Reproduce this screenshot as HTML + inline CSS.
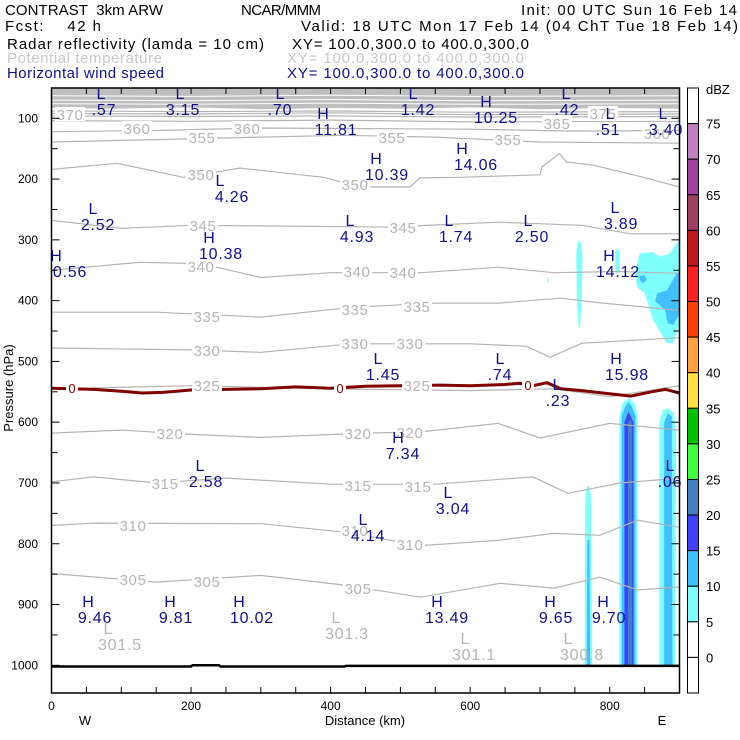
<!DOCTYPE html>
<html><head><meta charset="utf-8">
<style>
html,body{margin:0;padding:0;background:#fff;}
svg{display:block;font-family:"Liberation Sans",sans-serif;}
#header text{white-space:pre;}
</style></head>
<body>
<svg id="chart" width="740" height="740" viewBox="0 0 740 740">
  <defs><clipPath id="plotclip"><rect x="51.5" y="88" width="628" height="605"/></clipPath></defs>
  <g id="header" font-size="15" fill="#000">
    <text x="5" y="15" textLength="158" lengthAdjust="spacing">CONTRAST  3km ARW</text>
    <text x="241" y="15" textLength="80" lengthAdjust="spacing">NCAR/MMM</text>
    <text x="521" y="15" textLength="216" lengthAdjust="spacing">Init: 00 UTC Sun 16 Feb 14</text>
    <text x="5" y="31" textLength="96" lengthAdjust="spacing">Fcst:    42 h</text>
    <text x="301" y="31" textLength="437" lengthAdjust="spacing">Valid: 18 UTC Mon 17 Feb 14 (04 ChT Tue 18 Feb 14)</text>
    <text x="7" y="49" textLength="257" lengthAdjust="spacing">Radar reflectivity (lamda = 10 cm)</text>
    <text x="292" y="49" textLength="237" lengthAdjust="spacing">XY= 100.0,300.0 to 400.0,300.0</text>
    <text x="7" y="63" textLength="155" lengthAdjust="spacing" fill="#c8c8c8">Potential temperature</text>
    <text x="287" y="63" textLength="237" lengthAdjust="spacing" fill="#c8c8c8">XY= 100.0,300.0 to 400.0,300.0</text>
    <text x="7" y="78" textLength="157" lengthAdjust="spacing" fill="#10108c">Horizontal wind speed</text>
    <text x="287" y="78" textLength="237" lengthAdjust="spacing" fill="#10108c">XY= 100.0,300.0 to 400.0,300.0</text>
  </g>
  <g id="plot" clip-path="url(#plotclip)"></g>
  <g id="labels"></g>
  <g id="axes"></g>
  <g id="cbar"></g>
</svg>
<script>
// ---------- data ----------
const xTicks = [0, 200, 400, 600, 800];
const yTicks = [100, 200, 300, 400, 500, 600, 700, 800, 900, 1000];
const cbarLevels = [75, 70, 65, 60, 55, 50, 45, 40, 35, 30, 25, 20, 15, 10, 5, 0];
const cbarColors = ["#ffffff","#c080c0","#a040a0","#a04060","#c01818","#ff2020","#ff4000","#ffa040","#ffe040","#00c000","#40ff40","#4080c0","#4040ff","#40c0ff","#80ffff","#ffffff","#ffffff"];
const bandBottom = [[0,83],[100,84],[200,82],[300,85],[400,83],[500,84],[600,82],[700,85],[800,83],[900,84]];
const theta380 = [[0,88],[200,89],[400,88],[600,90],[900,89]];
const theta375 = [[0,92],[200,93],[400,91],[600,94],[900,93]];
const theta370 = [[0,96],[200,97],[400,96],[600,98],[900,97]];
const theta365 = [[0,104],[200,105],[400,103],[600,106],[900,105]];
const theta360 = [[0,122],[150,120],[300,116],[450,117],[600,118],[750,121],[900,120]];
const theta355 = [[0,139],[150,135],[300,131],[420,128],[550,131],[700,139],[900,141]];
const theta350 = [[0,184],[94,174],[189,197],[270,182],[318,188],[390,197],[442,213],[514,213],[528,198],[585,197],[700,193],[703,180],[728,158],[738,172],[776,177],[805,185],[848,197],[900,213]];
const theta345 = [[0,268],[100,281],[200,276],[300,277],[480,279],[640,271],[760,276],[830,290],[900,290]];
const theta340 = [[0,350],[127,337],[214,339],[300,362],[400,354],[530,354],[640,345],[720,354],[815,352],[900,355]];
const theta335 = [[0,419],[150,419],[300,427],[430,411],[550,404],[640,404],[730,396],[790,404],[900,416]];
const theta330 = [[0,478],[200,481],[300,485],[430,471],[600,471],[680,475],[715,493],[760,470],[900,461]];
const theta325 = [[0,545],[200,540],[400,545],[600,548],[720,545],[800,558],[900,540]];
const theta320 = [[0,618],[100,613],[200,620],[300,625],[450,618],[530,616],[640,602],[700,626],[800,602],[900,613]];
const theta315 = [[0,698],[60,690],[150,700],[250,692],[400,702],[550,702],[690,690],[740,717],[815,700],[900,692]];
const theta310 = [[0,770],[60,766],[300,767],[420,781],[530,803],[643,794],[720,783],[786,786],[840,761],[900,773]];
const theta305 = [[0,849],[150,863],[300,852],[420,868],[529,888],[643,865],[720,873],[786,855],[840,876],[900,871]];
const freezingLine = [[0,544],[60,546],[100,549],[130,552],[160,551],[200,547],[250,546],[300,545],[350,542],[400,544],[450,541],[500,540],[557,539],[600,540],[650,538],[670,536],[690,540],[710,535],[730,545],[760,548],[790,552],[830,557],[860,550],[880,546],[900,552]];
const groundLine = [[0,1002],[200,1002],[202,1000],[240,1000],[242,1002],[420,1002],[422,1001],[900,1001]];
const reflBlob5 = [[836,355],[843,322],[862,320],[872,328],[886,322],[896,305],[901,300],[901,437],[891,470],[882,470],[862,432],[850,388],[839,378]];
const reflBlob10 = [[868,388],[882,383],[896,355],[901,355],[901,420],[891,440],[883,437],[879,415],[865,401]];
const reflBlobSmall10 = [[843,360],[850,358],[853,366],[848,371],[844,368]];
const reflThin5 = [[752,320],[755,301],[759,305],[761,330],[760,400],[757,448],[755,440],[753,400]];
const reflSmall5 = [[808,320],[811,312],[814,320],[814,350],[811,358],[808,350]];
const reflTiny5 = [[710,363],[712,363],[712,371],[710,371]];
const colMain5 = [[814,1002],[814,590],[818,570],[827,560],[836,570],[840,590],[840,1002]];
const colMain10 = [[817,1002],[817,590],[822,575],[827,567],[832,575],[837,590],[837,1002]];
const colMain15 = [[821,1002],[821,600],[827,583],[834,600],[834,1002]];
const colMain20 = [[826,1002],[826,600],[829,596],[832,600],[832,1002]];
const colEast5 = [[871,1002],[871,600],[876,580],[884,577],[892,585],[895,620],[894,1002]];
const colEast10 = [[878,1002],[878,600],[883,585],[889,590],[890,1002]];
const colWest5 = [[764,1002],[765,720],[768,705],[771,705],[773,720],[775,1002]];
const colWest10 = [[767,1002],[768,794],[771,794],[772,1002]];

// ---------- axis functions ----------
const X0 = 51.5, XK = 0.6978, Y0 = 118.3, YK = 0.6078;
function xs(km){ return X0 + km * XK; }
function ys(p){ return Y0 + (p - 100) * YK; }
const NS = "http://www.w3.org/2000/svg";
function mk(tag, attrs, parent){ const e = document.createElementNS(NS, tag); for (const k in attrs) e.setAttribute(k, attrs[k]); parent.appendChild(e); return e; }
function pts(arr){ return arr.map(d => xs(d[0]).toFixed(1) + "," + ys(d[1]).toFixed(1)).join(" "); }
function dbzColor(v){ const i = cbarLevels.findIndex(l => v >= l); return cbarColors[i < 0 ? 16 : i]; }

const plot = document.getElementById("plot");
const bandPoly = [[0,45]].concat(bandBottom).concat([[900,45]]);
const band = mk("polygon", {points: pts(bandPoly), fill: "#bebebe"}, plot);


[63, 70, 76].forEach(function(p){
  const wl = mk("polyline", {points: pts([[0,p],[200,p+1],[400,p-1],[600,p+1],[900,p]]), fill: "none", stroke: "#ffffff", "stroke-width": 1}, plot);
  
  
});
const reflAreas = [[5,reflBlob5],[10,reflBlob10],[10,reflBlobSmall10],[5,reflThin5],[5,reflSmall5],[5,reflTiny5],[5,colMain5],[10,colMain10],[15,colMain15],[20,colMain20],[5,colEast5],[10,colEast10],[5,colWest5],[10,colWest10]];
reflAreas.forEach(function(a){
  const poly = mk("polygon", {points: pts(a[1]), fill: dbzColor(a[0])}, plot);
  
  
});
const thetaLines = [theta380,theta375,theta370,theta365,theta360,theta355,theta350,theta345,theta340,theta335,theta330,theta325,theta320,theta315,theta310,theta305];
thetaLines.forEach(function(l){
  const pl = mk("polyline", {points: pts(l), fill: "none", stroke: "#b4b4b4", "stroke-width": 1.2}, plot);
  
  
});
const fz = mk("polyline", {points: pts(freezingLine), fill: "none", stroke: "#800000", "stroke-width": 3}, plot);


const gl = mk("polyline", {points: pts(groundLine), fill: "none", stroke: "#000", "stroke-width": 2.5}, plot);



// ---------- labels ----------
const labels = document.getElementById("labels");
const thetaLabels = [["370",70,114],["360",137,128],["355",202,137],["360",247,128],["355",392,137],["355",508,139],["365",557,123],["375",603,113],["360",657,133],
["350",201,174],["350",355,184],["345",203,225],["345",403,227],["340",201,266],["340",357,271],["340",403,272],["335",207,316],["335",355,309],["335",417,306],
["330",207,350],["330",355,343],["330",410,343],["325",207,385],["325",417,385],["320",170,433],["320",358,433],["320",410,432],["315",165,483],["315",358,485],["315",418,486],
["310",133,525],["310",355,530],["310",410,544],["305",133,579],["305",207,581],["305",358,588]];
thetaLabels.forEach(function(t){
  const g = mk("g", {}, labels);
  mk("rect", {x: t[1]-15, y: t[2]-7, width: 30, height: 14, fill: "#fff"}, g);
  const tx = mk("text", {x: t[1], y: t[2]+6, "text-anchor": "middle", "font-size": 15, "letter-spacing": 0.6, fill: "#b4b4b4"}, g);
  tx.textContent = t[0];
  
  
});
[[72,388],[340,388],[528,385]].forEach(function(t){
  mk("rect", {x: t[0]-6, y: t[1]-7, width: 12, height: 14, fill: "#fff"}, labels);
  const tx = mk("text", {x: t[0], y: t[1]+5, "text-anchor": "middle", "font-size": 13, fill: "#800000"}, labels);
  tx.textContent = "0";
  
  
});
const hlAll = [["L",101,93,".57",104],["L",180,93,"3.15",183],["L",280,93,".70",280],["H",323,113,"11.81",336],["L",413,93,"1.42",418],["H",486,101,"10.25",496],["L",566,93,".42",567],["L",610,113,".51",608],["L",663,113,"3.40",666],
["H",376,158,"10.39",387],["H",462,148,"14.06",476],["L",220,180,"4.26",232],["L",93,208,"2.52",98],["H",209,237,"10.38",221],["L",350,220,"4.93",357],["L",449,220,"1.74",456],["L",528,220,"2.50",532],["L",615,207,"3.89",621],["H",56,255,"0.56",70],["H",609,255,"14.12",618],
["L",378,358,"1.45",383],["L",500,358,".74",500],["H",616,358,"15.98",627],["L",557,384,".23",558],["H",398,437,"7.34",403],["L",200,465,"2.58",206],["L",448,492,"3.04",453],["L",363,519,"4.14",368],["L",670,465,".06",670],
["H",88,601,"9.46",95],["H",170,601,"9.81",176],["H",239,601,"10.02",252],["H",437,601,"13.49",447],["H",550,601,"9.65",556],["H",603,601,"9.70",609]];
function drawHL(h, color, nm){
  const g = mk("g", {fill: color, "font-size": 16, "text-anchor": "middle"}, labels);
  const a = mk("text", {x: h[1], y: h[2]+6}, g); a.textContent = h[0];
  const b = mk("text", {x: h[4], y: h[2]+22, "letter-spacing": 0.8}, g); b.textContent = h[3];
  
  
}
hlAll.forEach(h => drawHL(h, "#10108c", "wind-extremum-label"));
[["L",108,628,"301.5",120],["L",336,617,"301.3",347],["L",465,638,"301.1",474],["L",568,638,"300.8",582]].forEach(h => drawHL(h, "#b4b4b4", "theta-minimum-label"));

// ---------- axes ----------
const axes = document.getElementById("axes");
mk("rect", {x: 51.5, y: 88, width: 628, height: 605, fill: "none", stroke: "#000", "stroke-width": 1.5}, axes);
for (let km = 50; km < 900; km += 50){
  mk("line", {x1: xs(km), y1: 693, x2: xs(km), y2: 687, stroke: "#000", "stroke-width": 1}, axes);
  mk("line", {x1: xs(km), y1: 88, x2: xs(km), y2: 94, stroke: "#000", "stroke-width": 1}, axes);
}
for (let p = 100; p <= 1000; p += 50){
  const len = p % 100 === 0 ? 8 : 6;
  mk("line", {x1: 51.5, y1: ys(p), x2: 51.5+len, y2: ys(p), stroke: "#000", "stroke-width": 1}, axes);
  mk("line", {x1: 679.5, y1: ys(p), x2: 679.5-len, y2: ys(p), stroke: "#000", "stroke-width": 1}, axes);
}
xTicks.forEach(function(v){
  const t = mk("text", {x: xs(v), y: 710, "text-anchor": "middle", "font-size": 12}, axes);
  t.textContent = String(v);
  
  
});
yTicks.forEach(function(v){
  const t = mk("text", {x: 38, y: ys(v)+4, "text-anchor": "end", "font-size": 12}, axes);
  t.textContent = String(v);
  
  
});
(function(){
  const a = mk("text", {x: 365, y: 725, "text-anchor": "middle", "font-size": 13}, axes); a.textContent = "Distance (km)";
   
  const w = mk("text", {x: 85, y: 725, "text-anchor": "middle", "font-size": 13}, axes); w.textContent = "W";
   
  const e = mk("text", {x: 662, y: 725, "text-anchor": "middle", "font-size": 13}, axes); e.textContent = "E";
   
  const y = mk("text", {x: 0, y: 0, "text-anchor": "middle", "font-size": 13, transform: "translate(13,388) rotate(-90)"}, axes); y.textContent = "Pressure (hPa)";
   
})();

// ---------- colorbar ----------
const cbar = document.getElementById("cbar");
const CB_TOP = 88, CB_H = 605 / 17;
cbarColors.forEach(function(c, i){
  const r = mk("rect", {x: 687.5, y: CB_TOP + i*CB_H, width: 11, height: CB_H, fill: c, stroke: "#000", "stroke-width": 1}, cbar);
  
  
});
cbarLevels.forEach(function(v, i){
  const t = mk("text", {x: 706, y: CB_TOP + (i+1)*CB_H + 5, "font-size": 13}, cbar);
  t.textContent = String(v);
  
  
});
(function(){
  const u = mk("text", {x: 706, y: 94, "font-size": 13}, cbar); u.textContent = "dBZ";
   
})();
</script>
</body></html>
